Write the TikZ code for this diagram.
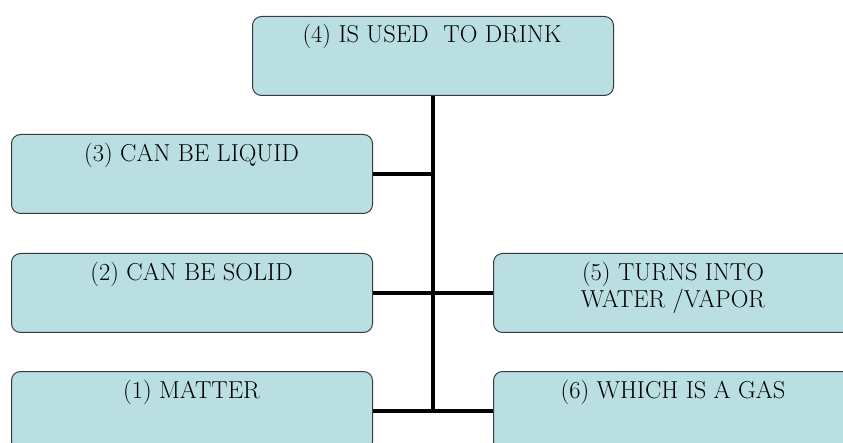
\documentclass[tikz,border=0pt]{standalone}
\definecolor{boxfill}{HTML}{B9DFE3}
\definecolor{boxline}{HTML}{3A3A3A}
\begin{document}
\begin{tikzpicture}[x=1pt,y=-1pt,
  box/.style={draw=boxline,line width=1pt,fill=boxfill,rounded corners=9pt,
    minimum width=361pt,minimum height=79pt,inner sep=0pt,anchor=north west},
  lbl/.style={anchor=base,inner sep=0pt,font=\fontsize{24.5}{27}\selectfont,align=center},
  conn/.style={line width=4pt,black}]
\useasboundingbox (0,0) rectangle (843,443);
\node[box] (b4) at (252,16) {};
\node[box] (b3) at (11,134) {};
\node[box] (b2) at (11,253) {};
\node[box] (b1) at (11,371) {};
\node[box] (b5) at (493,253) {};
\node[box] (b6) at (493,371) {};
\node[lbl] (t4) at (432,43) {(4) IS USED\ \ TO DRINK};
\node[lbl] (t3) at (191.5,162) {(3) CAN BE LIQUID};
\node[lbl] (t2) at (191.5,281) {(2) CAN BE SOLID};
\node[lbl] (t1) at (191.5,399) {(1) MATTER};
\node[lbl] (t5) at (673,308) {(5) TURNS INTO\\WATER /VAPOR};
\node[lbl] (t6) at (673,399) {(6) WHICH IS A GAS};
\draw[conn] (b4.south) -- (b4.south |- b1.east);
\draw[conn] (b3.east) -- (b3.east -| b4.south);
\draw[conn] (b2.east) -- (b5.west);
\draw[conn] (b1.east) -- (b6.west);
\end{tikzpicture}
\end{document}
